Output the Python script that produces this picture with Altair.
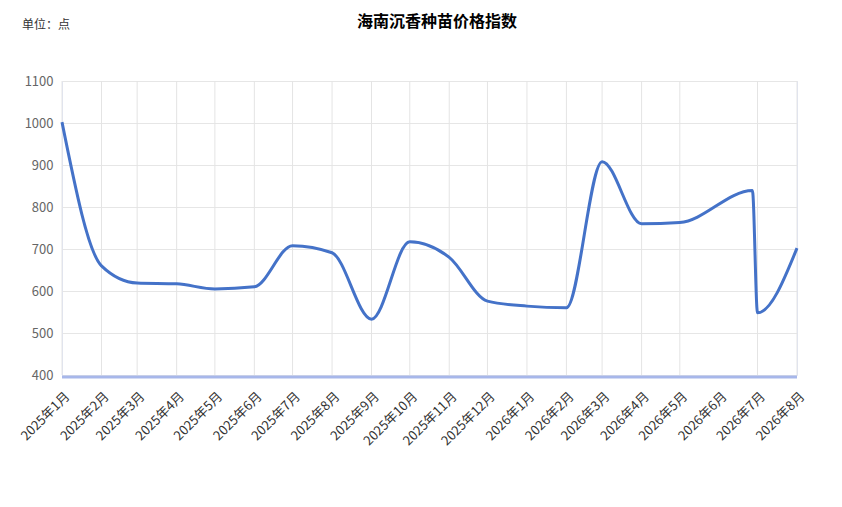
import altair as alt
import pandas as pd

# ---- data ----
point_dates = [
    "2025-01-01", "2025-02-01", "2025-03-01", "2025-04-01", "2025-05-01",
    "2025-06-01", "2025-07-01", "2025-08-01", "2025-09-01", "2025-10-01",
    "2025-11-01", "2025-12-01", "2026-01-01", "2026-02-01", "2026-03-01",
    "2026-04-01", "2026-05-01", "2026-06-27", "2026-07-01", "2026-08-01",
]
index_values = [
    1002, 660, 619, 617, 605,
    610, 708, 691, 533, 717,
    680, 576, 564, 560, 908,
    760, 763, 839, 548, 702,
]
tick_months = [
    "2025-01-01", "2025-02-01", "2025-03-01", "2025-04-01", "2025-05-01",
    "2025-06-01", "2025-07-01", "2025-08-01", "2025-09-01", "2025-10-01",
    "2025-11-01", "2025-12-01", "2026-01-01", "2026-02-01", "2026-03-01",
    "2026-04-01", "2026-05-01", "2026-06-01", "2026-07-01", "2026-08-01",
]
grid_months = [m for m in tick_months if m != "2026-06-01"]
y_ticks = [400, 500, 600, 700, 800, 900, 1000, 1100]

title_text = "海南沉香种苗价格指数"
unit_text = "单位：点"
FONT = "Noto Sans CJK SC"


def ms(d):
    return int(pd.Timestamp(d, tz="UTC").value // 10**6)


df = pd.DataFrame({"t": [ms(d) for d in point_dates], "v": index_values})
grid_df = pd.DataFrame({"t": [ms(d) for d in grid_months]})
one_row = pd.DataFrame({"k": [0]})
tick_ms = [ms(d) for d in tick_months]

xscale = alt.Scale(type="utc", domain=[tick_ms[0], tick_ms[-1]], nice=False)
yscale = alt.Scale(domain=[400, 1100], nice=False, zero=False)

xaxis = alt.Axis(
    values=tick_ms,
    labelExpr="utcFormat(datum.value, '%Y年%-m月')",
    labelAngle=-45,
    labelAlign="right",
    labelBaseline="middle",
    labelPadding=19,
    labelOffset=5,
    labelFontSize=13,
    labelColor="#333333",
    labelFont=FONT,
    labelOverlap=False,
    grid=False,
    ticks=False,
    domain=False,
    title=None,
)
yaxis = alt.Axis(
    values=y_ticks,
    format="d",
    labelFontSize=13,
    labelColor="#666666",
    labelFont=FONT,
    labelPadding=9,
    grid=True,
    gridColor="#e6e6e6",
    ticks=False,
    domain=False,
    title=None,
)

grid = alt.Chart(grid_df).mark_rule(color="#e4e4e4", strokeWidth=1).encode(
    x=alt.X("t:T", scale=xscale, axis=xaxis)
)

line = alt.Chart(df).mark_line(
    interpolate="monotone", color="#4472c8", strokeWidth=3
).encode(
    x=alt.X("t:T", scale=xscale, axis=xaxis),
    y=alt.Y("v:Q", scale=yscale, axis=yaxis),
)

bottom_band = alt.Chart(one_row).mark_rule(
    color="#a7b7ea", strokeWidth=3, yOffset=2
).encode(y=alt.datum(400, scale=yscale))

title = alt.Chart(one_row).mark_text(
    text=title_text, font=FONT, fontSize=16, fontWeight="bold",
    color="#000000", align="center", baseline="middle",
).encode(x=alt.value(375), y=alt.value(-59))

unit = alt.Chart(one_row).mark_text(
    text=unit_text, font=FONT, fontSize=12, color="#333333",
    align="left", baseline="middle",
).encode(x=alt.value(-40), y=alt.value(-56))

chart = (
    alt.layer(grid, line, bottom_band, title, unit)
    .properties(
        width=735,
        height=294,
        autosize=alt.AutoSizeParams(type="none"),
        padding={"left": 54, "top": 73, "right": 29, "bottom": 100},
        background="white",
    )
    .configure_view(stroke="#dfe4f6", strokeWidth=1)
)

chart.save("out.html", embed_options={"renderer": "svg", "actions": False})
